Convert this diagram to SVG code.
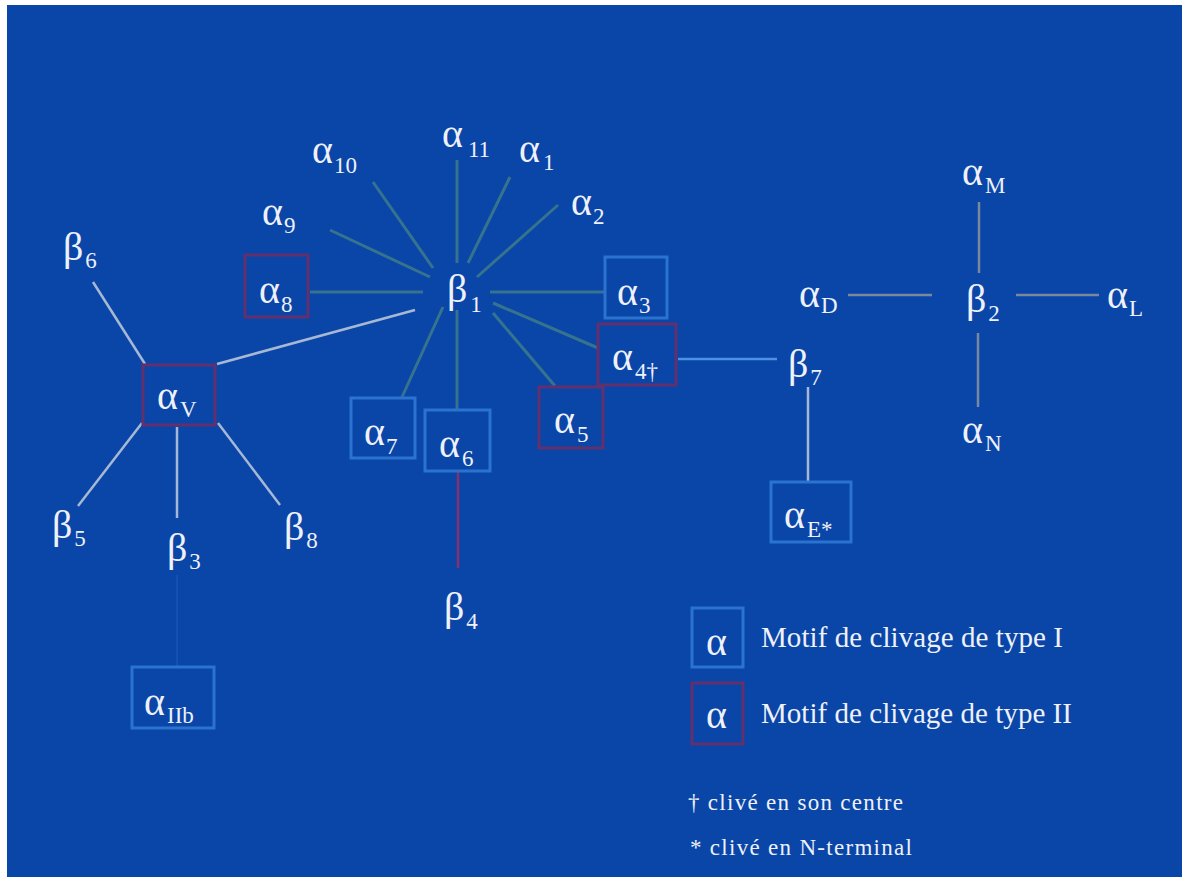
<svg xmlns="http://www.w3.org/2000/svg" width="1188" height="880" viewBox="0 0 1188 880">
<style>
.lbl{font-family:"Liberation Serif","DejaVu Serif",serif;font-size:40px;fill:#eef1f8}
.sub{font-size:23px}
.leg{font-family:"Liberation Serif","DejaVu Serif",serif;font-size:29px;fill:#eef1f8}
.note{font-family:"Liberation Serif","DejaVu Serif",serif;font-size:23px;fill:#eef1f8}
.t1{fill:none;stroke:#2a74cf;stroke-width:3}
.t2{fill:none;stroke:#62306c;stroke-width:3}
.sp{stroke:#35738f;stroke-width:3}
.gr{stroke:#a6b8d4;stroke-width:2.5}
.cr{stroke:#7a889f;stroke-width:2.5}
</style>
<rect x="0" y="0" width="1188" height="880" fill="#ffffff"/>
<rect x="7" y="5" width="1175" height="872" fill="#0a45a8"/>
<g id="connectors" fill="none">
<line class="sp" x1="457" y1="160" x2="457" y2="263"/>
<line class="sp" x1="510" y1="177" x2="468" y2="263"/>
<line class="sp" x1="373" y1="182" x2="433" y2="268"/>
<line class="sp" x1="558" y1="205" x2="477" y2="277"/>
<line class="sp" x1="330" y1="230" x2="430" y2="277"/>
<line class="sp" x1="310" y1="292" x2="423" y2="292"/>
<line class="sp" x1="490" y1="292" x2="604" y2="292"/>
<line class="sp" x1="493" y1="303" x2="598" y2="348"/>
<line class="sp" x1="493" y1="313" x2="555" y2="386"/>
<line class="sp" x1="443" y1="307" x2="402" y2="397"/>
<line class="sp" x1="457" y1="310" x2="457" y2="410"/>
<line class="gr" x1="415" y1="310" x2="217" y2="364"/>
<line class="gr" x1="93" y1="282" x2="145" y2="364"/>
<line class="gr" x1="78" y1="506" x2="142" y2="423"/>
<line class="gr" x1="177" y1="427" x2="177" y2="518"/>
<line class="gr" x1="218" y1="423" x2="280" y2="505"/>
<line stroke="#144fb2" stroke-width="2" x1="177" y1="575" x2="177" y2="666"/>
<line stroke="#86306e" stroke-width="2.5" x1="458" y1="472" x2="458" y2="568"/>
<line stroke="#4b92e2" stroke-width="2.5" x1="678" y1="359" x2="777" y2="359"/>
<line class="gr" x1="808" y1="387" x2="808" y2="482"/>
<line class="cr" x1="979" y1="202" x2="979" y2="273"/>
<line class="cr" x1="978" y1="333" x2="978" y2="407"/>
<line class="cr" x1="848" y1="295" x2="932" y2="295"/>
<line class="cr" x1="1016" y1="295" x2="1099" y2="295"/>
</g>
<g id="beta1"><text class="lbl" x="447" y="302">β<tspan class="sub" dx="3" dy="10">1</tspan></text></g>
<g id="alpha11"><text class="lbl" x="442" y="147">α<tspan class="sub" dx="5" dy="10">11</tspan></text></g>
<g id="alpha1"><text class="lbl" x="519" y="162">α<tspan class="sub" dx="3" dy="8">1</tspan></text></g>
<g id="alpha10"><text class="lbl" x="312" y="163">α<tspan class="sub" dx="1" dy="10">10</tspan></text></g>
<g id="alpha2"><text class="lbl" x="571" y="215">α<tspan class="sub" dx="1" dy="9">2</tspan></text></g>
<g id="alpha9"><text class="lbl" x="262" y="225">α<tspan class="sub" dx="1" dy="8">9</tspan></text></g>
<g id="alpha8"><rect class="t2" x="245" y="255" width="63" height="62"/><text class="lbl" x="259" y="303">α<tspan class="sub" dx="1" dy="9">8</tspan></text></g>
<g id="alpha3"><rect class="t1" x="605" y="257" width="62" height="61"/><text class="lbl" x="617" y="305">α<tspan class="sub" dx="1" dy="8">3</tspan></text></g>
<g id="alpha4"><rect class="t2" x="598" y="324" width="78" height="61"/><text class="lbl" x="612" y="370">α<tspan class="sub" dx="2" dy="9">4†</tspan></text></g>
<g id="alpha5"><rect class="t2" x="539" y="387" width="64" height="61"/><text class="lbl" x="554" y="433">α<tspan class="sub" dx="2" dy="9">5</tspan></text></g>
<g id="alpha7"><rect class="t1" x="351" y="398" width="64" height="60"/><text class="lbl" x="364" y="445">α<tspan class="sub" dx="1" dy="9">7</tspan></text></g>
<g id="alpha6"><rect class="t1" x="425" y="410" width="65" height="61"/><text class="lbl" x="439" y="457">α<tspan class="sub" dx="2" dy="9">6</tspan></text></g>
<g id="beta4"><text class="lbl" x="444" y="620">β<tspan class="sub" dx="2" dy="9">4</tspan></text></g>
<g id="alphaV"><rect class="t2" x="143" y="365" width="72" height="60"/><text class="lbl" x="157" y="409">α<tspan class="sub" dx="2" dy="8">V</tspan></text></g>
<g id="beta6"><text class="lbl" x="63" y="260">β<tspan class="sub" dx="2" dy="8">6</tspan></text></g>
<g id="beta5"><text class="lbl" x="52" y="538">β<tspan class="sub" dx="2" dy="8">5</tspan></text></g>
<g id="beta3"><text class="lbl" x="167" y="561">β<tspan class="sub" dx="2" dy="8">3</tspan></text></g>
<g id="beta8"><text class="lbl" x="284" y="540">β<tspan class="sub" dx="2" dy="8">8</tspan></text></g>
<g id="alphaIIb"><rect class="t1" x="132" y="667" width="82" height="61"/><text class="lbl" x="144" y="715">α<tspan class="sub" dx="2" dy="8">IIb</tspan></text></g>
<g id="beta7"><text class="lbl" x="788" y="377">β<tspan class="sub" dx="2" dy="8">7</tspan></text></g>
<g id="alphaE"><rect class="t1" x="771" y="482" width="80" height="60"/><text class="lbl" x="784" y="528">α<tspan class="sub" dx="2" dy="9">E*</tspan></text></g>
<g id="beta2"><text class="lbl" x="966" y="312">β<tspan class="sub" dx="2" dy="9">2</tspan></text></g>
<g id="alphaM"><text class="lbl" x="962" y="185">α<tspan class="sub" dx="2" dy="8">M</tspan></text></g>
<g id="alphaD"><text class="lbl" x="799" y="307">α<tspan class="sub" dx="1" dy="6">D</tspan></text></g>
<g id="alphaL"><text class="lbl" x="1107" y="308">α<tspan class="sub" dx="1" dy="8">L</tspan></text></g>
<g id="alphaN"><text class="lbl" x="962" y="443">α<tspan class="sub" dx="2" dy="8">N</tspan></text></g>
<g id="legend">
<rect class="t1" x="692" y="608" width="51" height="59"/>
<text class="lbl" x="706" y="655">α</text>
<text class="leg" x="761" y="647" textLength="302" lengthAdjust="spacing">Motif de clivage de type I</text>
<rect class="t2" x="692" y="683" width="51" height="61"/>
<text class="lbl" x="706" y="728">α</text>
<text class="leg" x="761" y="723" textLength="311" lengthAdjust="spacing">Motif de clivage de type II</text>
<text class="note" x="688" y="810" textLength="215" lengthAdjust="spacing">† clivé en son centre</text>
<text class="note" x="690" y="855" textLength="222" lengthAdjust="spacing">* clivé en N-terminal</text>
</g>
</svg>
